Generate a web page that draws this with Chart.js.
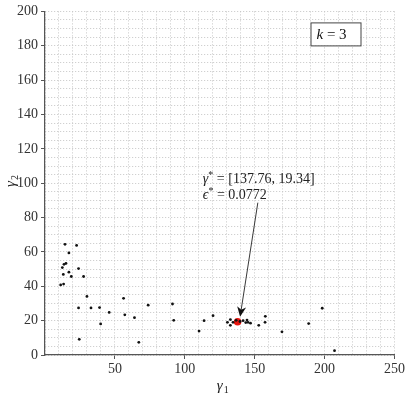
<!DOCTYPE html>
<html>
<head>
<meta charset="utf-8">
<script src="https://cdn.jsdelivr.net/npm/chart.js@4.4.0/dist/chart.umd.min.js"></script>
<style>
  html, body { margin: 0; padding: 0; background: #fff; }
  canvas { display: block; }
</style>
</head>
<body>
<canvas id="scatterChart" width="407" height="398"></canvas>
<script>
// sampled points (gamma1, gamma2)
const gamma1 = [14.3, 22.6, 17.1, 15.0, 13.6, 12.4, 24.0, 17.1, 13.1, 18.8, 27.6, 13.3, 11.2,
  30.0, 24.0, 32.9, 39.0, 45.9, 56.2, 57.1, 64.0, 39.8, 24.5, 67.1, 73.8, 91.2, 92.1,
  110.2, 113.8, 120.2, 130.5, 132.6, 132.6, 134.5, 136.7, 141.7, 143.6, 144.5, 145.2,
  147.0, 139.5, 152.9, 157.6, 157.4, 169.5, 188.6, 198.3, 207.1];
const gamma2 = [64.4, 63.8, 59.4, 53.3, 52.8, 50.9, 50.3, 48.2, 46.9, 45.7, 45.7, 41.3, 40.8,
  34.1, 27.4, 27.4, 27.6, 24.8, 33.0, 23.4, 21.7, 18.1, 9.1, 7.4, 29.0, 29.7, 20.2,
  13.9, 20.0, 22.9, 19.0, 20.6, 17.3, 19.0, 20.2, 20.0, 18.9, 20.3, 19.0,
  18.5, 19.5, 17.3, 22.5, 19.0, 13.5, 18.3, 27.2, 2.5];
const bestGamma = [137.76, 19.34];
const bestEps = '0.0772';
const kValue = 3;

const xTicks = [50, 100, 150, 200, 250];
const yTicks = [0, 20, 40, 60, 80, 100, 120, 140, 160, 180, 200];

const serif = '"Liberation Serif", "DejaVu Serif", serif';

const points = gamma1.map((g, i) => ({ x: g, y: gamma2[i] }));

const tickColorX = ctx => (ctx.tick && xTicks.includes(ctx.tick.value)) ? '#555' : 'rgba(0,0,0,0)';
const tickColorY = ctx => (ctx.tick && yTicks.includes(ctx.tick.value)) ? '#555' : 'rgba(0,0,0,0)';

// annotation, k-box and axis titles
const extras = {
  id: 'extras',
  afterDraw(chart) {
    const ctx = chart.ctx;
    const xs = chart.scales.x, ys = chart.scales.y;
    const area = chart.chartArea;
    ctx.save();

    // axis titles
    ctx.fillStyle = '#222';
    ctx.textBaseline = 'alphabetic';
    ctx.font = 'italic 15px ' + serif;
    const xt = (area.left + area.right) / 2 - 3;
    ctx.fillText('γ', xt, 390);
    ctx.font = '10px ' + serif;
    ctx.fillText('1', xt + 7, 393);

    ctx.save();
    ctx.translate(15, 187);
    ctx.rotate(-Math.PI / 2);
    ctx.font = 'italic 15px ' + serif;
    ctx.fillText('γ', 0, 0);
    ctx.font = '10px ' + serif;
    ctx.fillText('2', 7, 3);
    ctx.restore();

    // annotation text
    const tx = xs.getPixelForValue(112.9);
    const ty = ys.getPixelForValue(100.3);
    ctx.font = 'italic 14px ' + serif;
    ctx.fillText('γ', tx, ty);
    let w = ctx.measureText('γ').width;
    ctx.font = '10px ' + serif;
    ctx.fillText('*', tx + w, ty - 5);
    w += ctx.measureText('*').width;
    ctx.font = '14px ' + serif;
    ctx.fillText(' = [' + bestGamma[0].toFixed(2) + ', ' + bestGamma[1].toFixed(2) + ']', tx + w, ty);

    const ty2 = ty + 16;
    ctx.font = 'italic 14px ' + serif;
    ctx.fillText('ϵ', tx, ty2);
    w = ctx.measureText('ϵ').width;
    ctx.font = '10px ' + serif;
    ctx.fillText('*', tx + w, ty2 - 5);
    w += ctx.measureText('*').width;
    ctx.font = '14px ' + serif;
    ctx.fillText(' = ' + bestEps, tx + w, ty2);

    // arrow
    const px = xs.getPixelForValue(bestGamma[0]);
    const py = ys.getPixelForValue(bestGamma[1]);
    const sx = tx + 55, sy = ty2 + 4;
    const ex = px + 2.5, ey = py - 5;
    const ang = Math.atan2(ey - sy, ex - sx);
    ctx.strokeStyle = '#222';
    ctx.lineWidth = 0.9;
    ctx.beginPath();
    ctx.moveTo(sx, sy);
    ctx.lineTo(ex - 5 * Math.cos(ang), ey - 5 * Math.sin(ang));
    ctx.stroke();
    ctx.save();
    ctx.translate(ex, ey);
    ctx.rotate(ang);
    ctx.fillStyle = '#111';
    ctx.beginPath();
    ctx.moveTo(0, 0);
    ctx.lineTo(-10, -4.5);
    ctx.lineTo(-7, 0);
    ctx.lineTo(-10, 4.5);
    ctx.closePath();
    ctx.fill();
    ctx.restore();

    // k box
    const bx = area.right - 84, by = area.top + 11, bw = 50, bh = 23;
    ctx.fillStyle = '#fff';
    ctx.fillRect(bx, by, bw, bh);
    ctx.strokeStyle = '#444';
    ctx.lineWidth = 1;
    ctx.strokeRect(bx + 0.5, by + 0.5, bw, bh);
    ctx.fillStyle = '#111';
    ctx.font = 'italic 15px ' + serif;
    ctx.fillText('k', bx + 6, by + 17);
    const kw = ctx.measureText('k').width;
    ctx.font = '15px ' + serif;
    ctx.fillText(' = ' + kValue, bx + 6 + kw, by + 17);

    ctx.restore();
  }
};

new Chart(document.getElementById('scatterChart'), {
  type: 'scatter',
  data: {
    datasets: [
      {
        label: 'samples',
        data: points,
        pointRadius: 1.4,
        pointHoverRadius: 1.4,
        pointBackgroundColor: '#111',
        pointBorderWidth: 0
      },
      {
        label: 'best',
        data: [{ x: bestGamma[0], y: bestGamma[1] }],
        pointRadius: 3.8,
        pointBackgroundColor: '#e8150f',
        pointBorderWidth: 0
      }
    ]
  },
  options: {
    responsive: false,
    animation: false,
    layout: { padding: { top: 5, right: 11, left: 0, bottom: 0 } },
    plugins: {
      legend: { display: false },
      tooltip: { enabled: false }
    },
    scales: {
      x: {
        type: 'linear',
        min: 0,
        max: 250,
        afterFit: s => { s.height = 43; },
        ticks: {
          stepSize: 10,
          autoSkip: false,
          maxRotation: 0,
          padding: 2,
          color: '#333',
          font: { family: serif, size: 14 },
          callback: v => (v > 0 && v % 50 === 0) ? v : ''
        },
        grid: {
          color: '#c6c6c6',
          lineWidth: 1,
          tickLength: 4,
          tickColor: tickColorX,
          tickWidth: 1
        },
        border: { display: true, color: '#555', width: 1.2, dash: [1, 2] }
      },
      y: {
        type: 'linear',
        min: 0,
        max: 200,
        afterFit: s => { s.width = 45; },
        ticks: {
          stepSize: 5,
          autoSkip: false,
          padding: 3,
          color: '#333',
          font: { family: serif, size: 14 },
          callback: v => (v % 20 === 0) ? v : ''
        },
        grid: {
          color: '#c6c6c6',
          lineWidth: 1,
          tickLength: 4,
          tickColor: tickColorY,
          tickWidth: 1
        },
        border: { display: true, color: '#555', width: 1.2, dash: [1, 2] }
      }
    }
  },
  plugins: [extras]
});
</script>
</body>
</html>
